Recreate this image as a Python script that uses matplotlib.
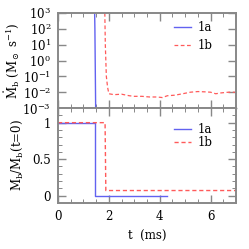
import numpy as np
import matplotlib
matplotlib.use("Agg")
import matplotlib.pyplot as plt

# Data
# top panel: accretion rate onto black hole (log)
t_1a_rate = [1.44, 1.45, 1.48]
rate_1a = [1e3, 1e2, 1e-3]
t_1b_rate = [1.84, 1.86, 1.9, 1.95, 2.0, 2.2, 2.5, 2.8, 3.0, 3.3, 3.6, 3.9, 4.1, 4.3,
             4.6, 4.9, 5.2, 5.5, 5.8, 6.0, 6.2, 6.4, 6.7, 7.0]
rate_1b = [1e3, 1e1, 1e-1, 2e-2, 8e-3, 7e-3, 7.5e-3, 6e-3, 5.5e-3, 5.5e-3, 5e-3, 5e-3,
           4.6e-3, 6e-3, 6.5e-3, 8e-3, 1e-2, 1.1e-2, 1.05e-2, 1e-2, 8e-3, 9e-3, 1e-2, 1e-2]

# bottom panel: normalised baryon mass
t_1a_mass = [0.0, 1.45, 1.45, 4.3]
mass_1a = [1.0, 1.0, 0.0, 0.0]
t_1b_mass = [0.0, 1.85, 1.88, 7.0]
mass_1b = [1.0, 1.0, 0.07, 0.07]

plt.rcParams['font.family'] = ['DejaVu Serif']
plt.rcParams['mathtext.fontset'] = 'dejavuserif'

fig = plt.figure(figsize=(2.49, 2.49), dpi=100)
ax1 = fig.add_axes([0.233, 0.566, 0.715, 0.382])
ax2 = fig.add_axes([0.233, 0.185, 0.715, 0.381], sharex=ax1)

blue = '#6262f0'
red = '#ff5a5a'
fs = 8.5

ax1.plot(t_1a_rate, rate_1a, color=blue, lw=1.0, label='1a')
ax1.plot(t_1b_rate, rate_1b, color=red, lw=0.9, ls='--', dashes=(3, 2), label='1b')
ax1.set_yscale('log')
ax1.set_ylim(1e-3, 1e3)
ax1.set_yticks([1e-3, 1e-2, 1e-1, 1e0, 1e1, 1e2, 1e3])
ax1.yaxis.set_minor_locator(matplotlib.ticker.NullLocator())
ax1.set_ylabel(r'$\dot{\mathrm{M}}_{\mathrm{b}}$ (M$_\odot$ s$^{-1}$)', fontsize=fs, labelpad=1)
ax1.legend(loc='upper right', frameon=False, fontsize=fs, handlelength=1.4,
           bbox_to_anchor=(0.93, 1.03), labelspacing=0.45, handletextpad=0.6)
ax1.tick_params(labelbottom=False)

ax2.plot(t_1a_mass, mass_1a, color=blue, lw=1.0, label='1a')
ax2.plot(t_1b_mass, mass_1b, color=red, lw=1.0, ls='--', dashes=(3, 2), label='1b')
ax2.set_ylim(-0.1, 1.2)
ax2.set_yticks([0, 0.5, 1])
ax2.set_yticklabels(['0', '0.5', '1'])
ax2.set_yticks(np.arange(0, 1.2, 0.1), minor=True)
ax2.set_xlim(0, 7)
ax2.set_xticks([0, 2, 4, 6])
ax2.set_xticks(np.arange(0, 7.1, 0.5), minor=True)
ax2.set_xlabel('t  (ms)', fontsize=fs, labelpad=5)
ax2.set_ylabel(r'M$_{\mathrm{b}}$/M$_{\mathrm{b}}$(t=0)', fontsize=fs, labelpad=5)
ax2.legend(loc='upper right', frameon=False, fontsize=fs, handlelength=1.4,
           bbox_to_anchor=(0.93, 0.95), labelspacing=0.0, handletextpad=0.6)

for ax in (ax1, ax2):
    for s in ax.spines.values():
        s.set_color('#888888')
        s.set_linewidth(1.4)
    ax.tick_params(which='both', direction='in', top=True, right=True,
                   color='#888888', labelsize=fs)
    ax.tick_params(which='major', length=6, width=1.0, pad=5)
    ax.tick_params(which='minor', length=3, width=0.7)
ax1.spines['bottom'].set_color('black')
ax1.spines['bottom'].set_linewidth(1.0)

fig.savefig('out.png', dpi=100)
